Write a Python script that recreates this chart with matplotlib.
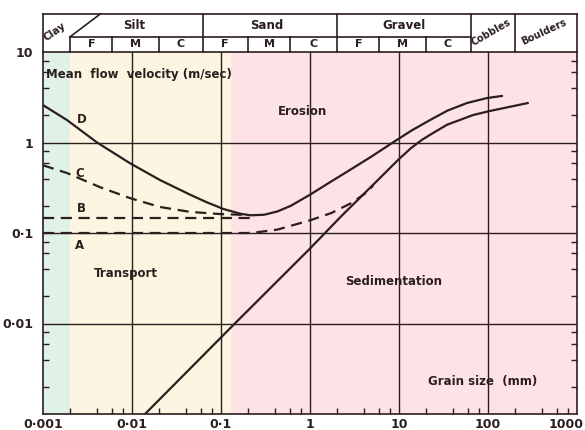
import matplotlib
matplotlib.use("Agg")
import matplotlib.pyplot as plt
from matplotlib.ticker import FixedLocator, NullFormatter

# ---------------- data ----------------
# Curve D: upper erosion curve (grain size mm, velocity m/s)
d_D = [0.001, 0.00186, 0.00405, 0.0095, 0.0206, 0.045, 0.0695, 0.107, 0.166, 0.215,
       0.304, 0.43, 0.61, 1.0, 1.73, 2.91, 4.91, 8.26, 13.9, 22.3, 35, 58, 97.5, 144]
v_D = [2.59, 1.77, 1.0, 0.59, 0.385, 0.265, 0.218, 0.184, 0.163, 0.157,
       0.159, 0.173, 0.2, 0.265, 0.371, 0.508, 0.70, 0.98, 1.36, 1.77, 2.25, 2.73, 3.10, 3.27]

# Curve C (dashed)
d_C = [0.001, 0.00186, 0.0044, 0.0095, 0.0206, 0.045, 0.0975, 0.2]
v_C = [0.56, 0.46, 0.32, 0.243, 0.194, 0.171, 0.162, 0.158]

# Curve B (dashed, horizontal)
d_B = [0.001, 0.22]
v_B = [0.145, 0.145]

# Curve A (dashed)
d_A = [0.001, 0.2, 0.256, 0.43, 1.0, 1.73, 2.91, 4.5, 5.1]
v_A = [0.1, 0.1, 0.102, 0.109, 0.138, 0.166, 0.214, 0.288, 0.335]

# Sedimentation / lower erosion curve (solid)
d_S = [0.014, 0.133, 0.98, 2.24, 5.1, 9.8, 13.5, 18.1, 23.4, 34.6, 67.8, 105, 281]
v_S = [0.001, 0.0093, 0.066, 0.153, 0.34, 0.644, 0.86, 1.07, 1.25, 1.57, 2.01, 2.23, 2.73]

x_ticks = [0.001, 0.01, 0.1, 1, 10, 100, 1000]
x_ticklabels = ["0·001", "0·01", "0·1", "1", "10", "100", "1000"]
y_ticks = [0.01, 0.1, 1, 10]
y_ticklabels = ["0·01", "0·1", "1", "10"]

# Region boundaries (mm)
clay_silt = 0.002
transport_erosion = 0.13

# Header classes
top_labels = ["Silt", "Sand", "Gravel"]
top_centers = [0.0105, 0.33, 11.5]
top_bounds = [0.0625, 2, 64, 200]
sub_bounds = [0.006, 0.02, 0.2, 0.6, 6, 20]
sub_labels = ["F", "M", "C", "F", "M", "C", "F", "M", "C"]
sub_centers = [0.0035, 0.011, 0.035, 0.11, 0.35, 1.1, 3.5, 11, 35]

# ---------------- figure ----------------
ink = "#2b1e1e"
fig = plt.figure(figsize=(5.85, 4.30), dpi=100)
ax = fig.add_axes([43/585, 1-414/430, (577-43)/585, (414-52)/430])
ax.set_xscale("log")
ax.set_yscale("log")
ax.set_xlim(0.001, 1000)
ax.set_ylim(0.001, 10)

ax.axvspan(0.001, clay_silt, color="#e0f2e6", zorder=0, lw=0)
ax.axvspan(clay_silt, transport_erosion, color="#fdf5e2", zorder=0, lw=0)
ax.axvspan(transport_erosion, 1000, color="#fde2e6", zorder=0, lw=0)

for xv in x_ticks[1:-1]:
    ax.axvline(xv, color=ink, lw=1.0, zorder=1)
for yv in y_ticks[:-1]:
    ax.axhline(yv, color=ink, lw=1.0, zorder=1)

lw = 1.6
ax.plot(d_D, v_D, color=ink, lw=lw, zorder=3, solid_capstyle="round", solid_joinstyle="round")
ax.plot(d_S, v_S, color=ink, lw=lw, zorder=3, solid_capstyle="round", solid_joinstyle="round")
ax.plot(d_C, v_C, color=ink, lw=lw, ls=(0, (5, 3)), zorder=3)
ax.plot(d_B, v_B, color=ink, lw=lw, ls=(0, (5, 3)), zorder=3)
ax.plot(d_A, v_A, color=ink, lw=lw, ls=(0, (5, 3)), zorder=3)

for s in ax.spines.values():
    s.set_color(ink)
    s.set_linewidth(1.2)

minor = [k * 10.0**e for e in range(-3, 3) for k in (2, 4, 6, 8)]
ax.xaxis.set_minor_locator(FixedLocator(minor))
ax.yaxis.set_minor_locator(FixedLocator([m for m in minor if m < 10]))
ax.xaxis.set_minor_formatter(NullFormatter())
ax.yaxis.set_minor_formatter(NullFormatter())
ax.set_xticks(x_ticks)
ax.set_xticklabels(x_ticklabels[:-1] + [""])
ax.set_yticks(y_ticks)
ax.set_yticklabels(y_ticklabels)
ax.tick_params(which="major", length=0, pad=3, labelsize=9, labelcolor=ink)
ax.tick_params(axis="y", which="major", pad=7)
ax.tick_params(which="minor", direction="in", length=4, width=1.0, color=ink,
               right=True, top=False)
for lab in ax.get_xticklabels() + ax.get_yticklabels():
    lab.set_fontweight("bold")
# last x label, nudged so it stays inside the figure
ax.annotate(x_ticklabels[-1], xy=(1000, 0), xycoords=("data", "axes fraction"),
            xytext=(5, -3), textcoords="offset points", ha="right", va="top",
            color=ink, fontweight="bold", fontsize=9, annotation_clip=False)

tk = dict(color=ink, fontweight="bold", fontsize=8.5)
ax.text(0.00107, 5.6, "Mean  flow  velocity (m/sec)", ha="left", va="center", **tk)
ax.text(0.00274, 1.78, "D", ha="center", va="center", **tk)
ax.text(0.0026, 0.46, "C", ha="center", va="center", **tk)
ax.text(0.0027, 0.185, "B", ha="center", va="center", **tk)
ax.text(0.0026, 0.073, "A", ha="center", va="center", **tk)
ax.text(0.83, 2.2, "Erosion", ha="center", va="center", **tk)
ax.text(0.0086, 0.036, "Transport", ha="center", va="center", **tk)
ax.text(8.7, 0.029, "Sedimentation", ha="center", va="center", **tk)
ax.text(88, 0.0023, "Grain size  (mm)", ha="center", va="center", **tk)

# ---------------- header ----------------
tr = ax.get_xaxis_transform()
top_y = 1 + 38/362
mid_y = 1 + 15/362
hk = dict(transform=tr, color=ink, lw=1.2, clip_on=False)
ax.plot([0.001, 1000], [top_y, top_y], **hk)
ax.plot([0.001, 0.001], [1, top_y], **hk)
ax.plot([1000, 1000], [1, top_y], **hk)
ax.plot([clay_silt, 64], [mid_y, mid_y], **hk)
ax.plot([clay_silt, clay_silt], [1, mid_y], **hk)
ax.plot([clay_silt, 0.0044], [mid_y, top_y], **hk)
for b in top_bounds:
    ax.plot([b, b], [1, top_y], **hk)
for b in sub_bounds:
    ax.plot([b, b], [1, mid_y], **hk)

for lab, c in zip(top_labels, top_centers):
    ax.text(c, (mid_y + top_y) / 2, lab, transform=tr, ha="center", va="center",
            color=ink, fontweight="bold", fontsize=8.5)
for lab, c in zip(sub_labels, sub_centers):
    ax.text(c, (1 + mid_y) / 2, lab, transform=tr, ha="center", va="center",
            color=ink, fontweight="bold", fontsize=8)
ax.text(0.00135, 1 + 20/362, "Clay", transform=tr, ha="center", va="center",
        rotation=35, color=ink, fontweight="bold", fontsize=7.5)
ax.text(108, 1 + 20/362, "Cobbles", transform=tr, ha="center", va="center",
        rotation=30, color=ink, fontweight="bold", fontsize=7)
ax.text(430, 1 + 20/362, "Boulders", transform=tr, ha="center", va="center",
        rotation=25, color=ink, fontweight="bold", fontsize=7)

fig.savefig("out.png", dpi=100)
